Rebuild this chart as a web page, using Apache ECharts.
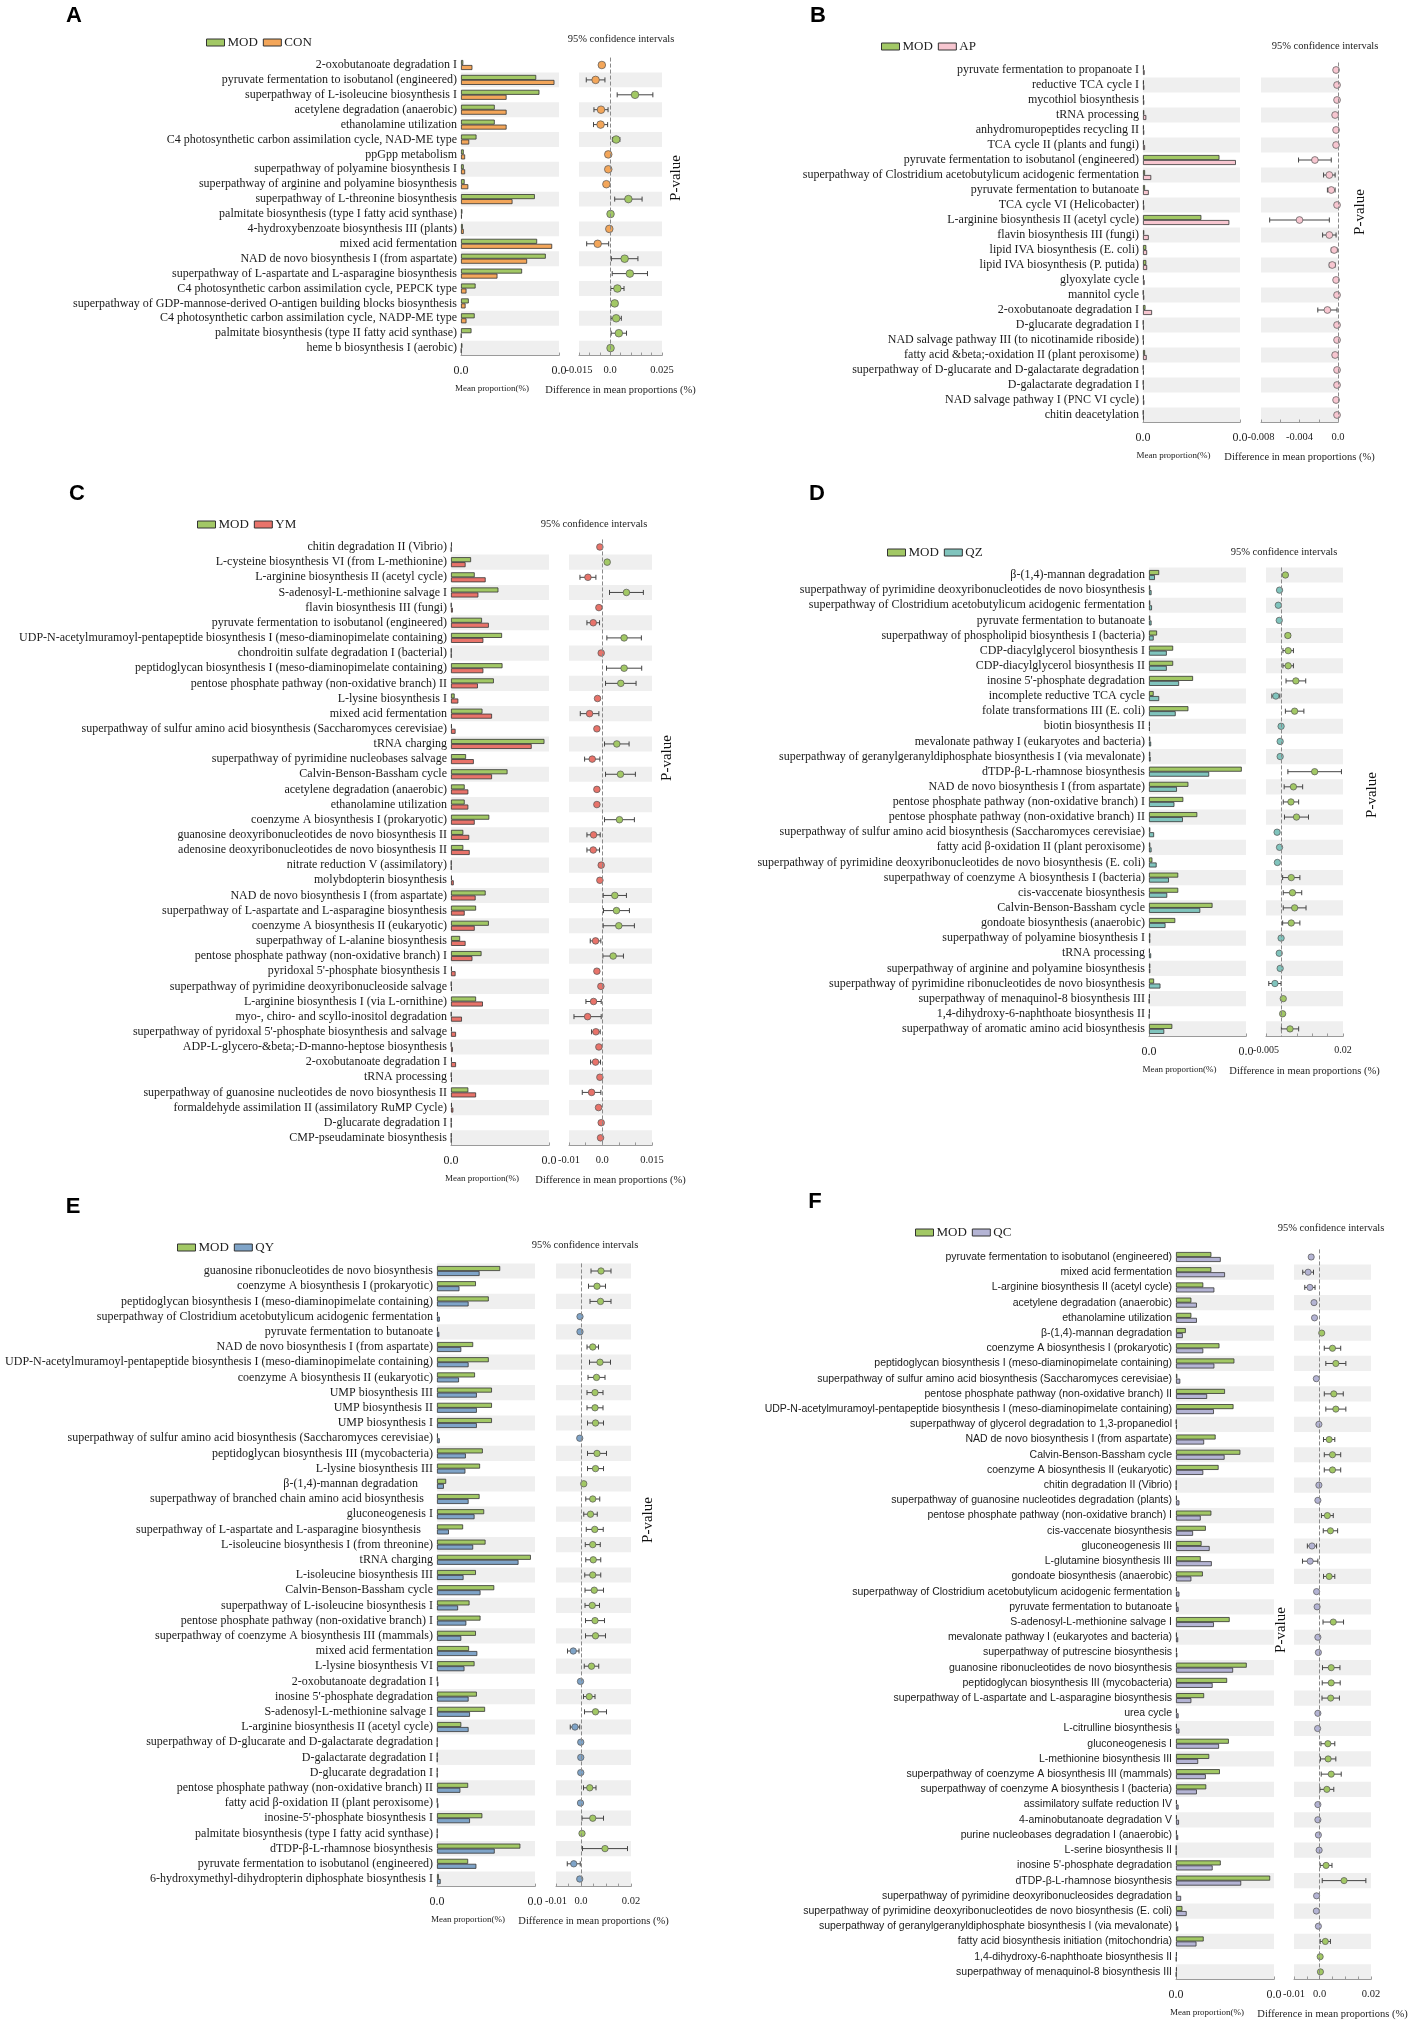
<!DOCTYPE html>
<html>
<head>
<meta charset="utf-8">
<title>MOD group comparisons</title>
<script src="https://cdn.jsdelivr.net/npm/echarts@6.0.0/dist/echarts.min.js"></script>
<style>
  html, body { margin: 0; padding: 0; background: #fff; }
  #main { width: 1417px; height: 2020px; }
</style>
</head>
<body>
<div id="main"></div>
<script>
// ---------- data: A  MOD vs CON ----------
var labelsA = ['2-oxobutanoate degradation I', 'pyruvate fermentation to isobutanol (engineered)', 'superpathway of L-isoleucine biosynthesis I',
  'acetylene degradation (anaerobic)', 'ethanolamine utilization', 'C4 photosynthetic carbon assimilation cycle, NAD-ME type', 'ppGpp metabolism',
  'superpathway of polyamine biosynthesis I', 'superpathway of arginine and polyamine biosynthesis', 'superpathway of L-threonine biosynthesis',
  'palmitate biosynthesis (type I fatty acid synthase)', '4-hydroxybenzoate biosynthesis III (plants)', 'mixed acid fermentation',
  'NAD de novo biosynthesis I (from aspartate)', 'superpathway of L-aspartate and L-asparagine biosynthesis', 'C4 photosynthetic carbon assimilation cycle, PEPCK type',
  'superpathway of GDP-mannose-derived O-antigen building blocks biosynthesis', 'C4 photosynthetic carbon assimilation cycle, NADP-ME type',
  'palmitate biosynthesis (type II fatty acid synthase)', 'heme b biosynthesis I (aerobic)'];
var modA = [0.001, 0.033, 0.0344, 0.0148, 0.0148, 0.0068, 0.0012, 0.0012, 0.0016, 0.0324, 0.0006, 0.0008, 0.0334, 0.0372, 0.0268, 0.0064, 0.0034, 0.006, 0.0046, 0.0006];
var conA = [0.005, 0.041, 0.02, 0.02, 0.02, 0.0036, 0.0018, 0.0018, 0.0032, 0.0226, 0.0004, 0.0012, 0.04, 0.029, 0.016, 0.0024, 0.002, 0.0024, 0.0002, 0.0002];
var diffA = [-0.004, -0.007, 0.012, -0.0044, -0.0046, 0.0029, -0.0009, -0.0009, -0.0018, 0.0088, 0.0002, -0.0004, -0.006, 0.007, 0.0095, 0.0035, 0.0022, 0.0029, 0.0042, 0.0002];
var ciA = [0.0012, 0.0045, 0.0086, 0.0034, 0.0034, 0.0018, 0.0005, 0.0005, 0.0008, 0.0066, 0.0003, 0.0004, 0.0053, 0.0064, 0.0085, 0.0032, 0.0014, 0.0025, 0.0037, 0.0003];

// ---------- data: B  MOD vs AP ----------
var labelsB = ['pyruvate fermentation to propanoate I', 'reductive TCA cycle I', 'mycothiol biosynthesis', 'tRNA processing', 'anhydromuropeptides recycling II',
  'TCA cycle II (plants and fungi)', 'pyruvate fermentation to isobutanol (engineered)', 'superpathway of Clostridium acetobutylicum acidogenic fermentation',
  'pyruvate fermentation to butanoate', 'TCA cycle VI (Helicobacter)', 'L-arginine biosynthesis II (acetyl cycle)', 'flavin biosynthesis III (fungi)',
  'lipid IVA biosynthesis (E. coli)', 'lipid IVA biosynthesis (P. putida)', 'glyoxylate cycle', 'mannitol cycle', '2-oxobutanoate degradation I',
  'D-glucarate degradation I', 'NAD salvage pathway III (to nicotinamide riboside)', 'fatty acid &beta;-oxidation II (plant peroxisome)',
  'superpathway of D-glucarate and D-galactarate degradation', 'D-galactarate degradation I', 'NAD salvage pathway I (PNC VI cycle)', 'chitin deacetylation'];
var modB = [0.0004, 0.0004, 0.0004, 0.0006, 0.0004, 0.0004, 0.0372, 0.001, 0.001, 0.0004, 0.0284, 0.0006, 0.0016, 0.0016, 0.0004, 0.0002, 0.0012, 0.0002, 0.0002, 0.001, 0.0002, 0.0002, 0.0004, 0.0002];
var apB = [0.0008, 0.0006, 0.0006, 0.0016, 0.0006, 0.001, 0.0452, 0.004, 0.0028, 0.0006, 0.042, 0.0028, 0.002, 0.002, 0.0008, 0.0006, 0.0044, 0.0004, 0.0004, 0.0018, 0.0004, 0.0004, 0.0006, 0.0004];
var diffB = [-0.0002, -0.0001, -0.0001, -0.0003, -0.0002, -0.0002, -0.0024, -0.0009, -0.0007, -0.0001, -0.004, -0.0009, -0.0004, -0.0006, -0.0002, -0.0001, -0.0011, -0.0001, -0.0001, -0.0003, -0.0001, -0.0001, -0.0002, -0.0001];
var ciB = [0.0001, 0.0001, 0.0001, 0.0001, 0.0001, 0.0001, 0.0017, 0.0006, 0.0004, 0.0001, 0.0031, 0.0007, 0.0003, 0.0003, 0.0001, 0.0001, 0.001, 0.0001, 0.0001, 0.0002, 0.0001, 0.0001, 0.0001, 0.0001];

// ---------- data: C  MOD vs YM ----------
var labelsC = ['chitin degradation II (Vibrio)', 'L-cysteine biosynthesis VI (from L-methionine)', 'L-arginine biosynthesis II (acetyl cycle)',
  'S-adenosyl-L-methionine salvage I', 'flavin biosynthesis III (fungi)', 'pyruvate fermentation to isobutanol (engineered)',
  'UDP-N-acetylmuramoyl-pentapeptide biosynthesis I (meso-diaminopimelate containing)', 'chondroitin sulfate degradation I (bacterial)',
  'peptidoglycan biosynthesis I (meso-diaminopimelate containing)', 'pentose phosphate pathway (non-oxidative branch) II', 'L-lysine biosynthesis I',
  'mixed acid fermentation', 'superpathway of sulfur amino acid biosynthesis (Saccharomyces cerevisiae)', 'tRNA charging',
  'superpathway of pyrimidine nucleobases salvage', 'Calvin-Benson-Bassham cycle', 'acetylene degradation (anaerobic)', 'ethanolamine utilization',
  'coenzyme A biosynthesis I (prokaryotic)', 'guanosine deoxyribonucleotides de novo biosynthesis II', 'adenosine deoxyribonucleotides de novo biosynthesis II',
  'nitrate reduction V (assimilatory)', 'molybdopterin biosynthesis', 'NAD de novo biosynthesis I (from aspartate)',
  'superpathway of L-aspartate and L-asparagine biosynthesis', 'coenzyme A biosynthesis II (eukaryotic)', 'superpathway of L-alanine biosynthesis',
  'pentose phosphate pathway (non-oxidative branch) I', "pyridoxal 5'-phosphate biosynthesis I", 'superpathway of pyrimidine deoxyribonucleoside salvage',
  'L-arginine biosynthesis I (via L-ornithine)', 'myo-, chiro- and scyllo-inositol degradation', "superpathway of pyridoxal 5'-phosphate biosynthesis and salvage",
  'ADP-L-glycero-&beta;-D-manno-heptose biosynthesis', '2-oxobutanoate degradation I', 'tRNA processing',
  'superpathway of guanosine nucleotides de novo biosynthesis II', 'formaldehyde assimilation II (assimilatory RuMP Cycle)', 'D-glucarate degradation I',
  'CMP-pseudaminate biosynthesis'];
var modC = [0.0004, 0.0088, 0.0104, 0.0208, 0.0002, 0.0136, 0.0224, 0.0002, 0.0226, 0.0188, 0.0016, 0.0138, 0.0004, 0.041, 0.0066, 0.0248, 0.006, 0.006, 0.0168, 0.0054,
  0.0054, 0.0002, 0.0004, 0.0152, 0.011, 0.0166, 0.004, 0.0134, 0.0004, 0.0002, 0.011, 0.0002, 0.0004, 0.0002, 0.0004, 0.0002, 0.0076, 0.0004, 0.0002, 0.0002];
var ymC = [0.0002, 0.0064, 0.0152, 0.012, 0.0008, 0.0166, 0.0142, 0.0002, 0.0142, 0.0118, 0.0032, 0.018, 0.002, 0.0354, 0.01, 0.018, 0.0076, 0.0076, 0.0104, 0.008,
  0.0082, 0.0002, 0.0012, 0.0108, 0.006, 0.0104, 0.0064, 0.0094, 0.002, 0.0004, 0.014, 0.0048, 0.0022, 0.0008, 0.0022, 0.0004, 0.011, 0.001, 0.0002, 0.0002];
var diffC = [-0.0007, 0.0015, -0.0043, 0.0073, -0.001, -0.0027, 0.0066, -0.0003, 0.0066, 0.0056, -0.0014, -0.0038, -0.0016, 0.0044, -0.003, 0.0055, -0.0016, -0.0016, 0.0052, -0.0026,
  -0.0027, -0.0003, -0.0007, 0.0038, 0.0043, 0.005, -0.002, 0.0033, -0.0016, -0.0004, -0.0026, -0.0044, -0.0019, -0.001, -0.002, -0.0007, -0.0032, -0.0011, -0.0003, -0.0005];
var ciC = [0.0003, 0.0004, 0.0024, 0.0051, 0.0003, 0.0019, 0.0052, 0.0002, 0.0053, 0.0046, 0.0004, 0.0028, 0.0004, 0.0037, 0.0023, 0.0045, 0.0004, 0.0004, 0.0045, 0.002,
  0.0019, 0.0002, 0.0003, 0.0035, 0.0039, 0.0047, 0.0016, 0.0031, 0.0005, 0.0002, 0.0023, 0.0041, 0.0013, 0.0003, 0.0015, 0.0003, 0.0028, 0.0003, 0.0002, 0.0003];

// ---------- data: D  MOD vs QZ ----------
var labelsD = ['β-(1,4)-mannan degradation', 'superpathway of pyrimidine deoxyribonucleotides de novo biosynthesis',
  'superpathway of Clostridium acetobutylicum acidogenic fermentation', 'pyruvate fermentation to butanoate', 'superpathway of phospholipid biosynthesis I (bacteria)',
  'CDP-diacylglycerol biosynthesis I', 'CDP-diacylglycerol biosynthesis II', "inosine 5'-phosphate degradation", 'incomplete reductive TCA cycle',
  'folate transformations III (E. coli)', 'biotin biosynthesis II', 'mevalonate pathway I (eukaryotes and bacteria)',
  'superpathway of geranylgeranyldiphosphate biosynthesis I (via mevalonate)', 'dTDP-β-L-rhamnose biosynthesis', 'NAD de novo biosynthesis I (from aspartate)',
  'pentose phosphate pathway (non-oxidative branch) I', 'pentose phosphate pathway (non-oxidative branch) II',
  'superpathway of sulfur amino acid biosynthesis (Saccharomyces cerevisiae)', 'fatty acid β-oxidation II (plant peroxisome)',
  'superpathway of pyrimidine deoxyribonucleotides de novo biosynthesis (E. coli)', 'superpathway of coenzyme A biosynthesis I (bacteria)',
  'cis-vaccenate biosynthesis', 'Calvin-Benson-Bassham cycle', 'gondoate biosynthesis (anaerobic)', 'superpathway of polyamine biosynthesis I',
  'tRNA processing', 'superpathway of arginine and polyamine biosynthesis', 'superpathway of pyrimidine ribonucleotides de novo biosynthesis',
  'superpathway of menaquinol-8 biosynthesis III', '1,4-dihydroxy-6-naphthoate biosynthesis II', 'superpathway of aromatic amino acid biosynthesis'];
var modD = [0.0048, 0.0006, 0.0006, 0.0006, 0.0038, 0.0114, 0.0114, 0.0208, 0.0022, 0.0186, 0.0004, 0.0006, 0.0006, 0.0438, 0.0186,
  0.0162, 0.0228, 0.0006, 0.0006, 0.0016, 0.0138, 0.0138, 0.03, 0.0124, 0.0006, 0.0004, 0.0006, 0.0024, 0.0004, 0.0004, 0.011];
var qzD = [0.0028, 0.0012, 0.0014, 0.0012, 0.0022, 0.0084, 0.0084, 0.0142, 0.0048, 0.0126, 0.0004, 0.001, 0.0008, 0.0284, 0.0132,
  0.012, 0.016, 0.0024, 0.0012, 0.0036, 0.0094, 0.0086, 0.0242, 0.0078, 0.0006, 0.001, 0.0006, 0.0054, 0.0002, 0.0002, 0.0072];
var diffD = [0.0013, -0.0006, -0.001, -0.0007, 0.0021, 0.0022, 0.0022, 0.0047, -0.0018, 0.0043, -0.0001, -0.0004, -0.0004, 0.0108, 0.0039,
  0.0031, 0.0049, -0.0014, -0.0006, -0.0013, 0.0032, 0.0036, 0.0043, 0.0032, -0.0001, -0.0007, -0.0004, -0.0021, 0.0006, 0.0004, 0.0028];
var ciD = [0.0004, 0.0003, 0.0003, 0.0003, 0.0008, 0.0017, 0.0017, 0.0032, 0.0013, 0.003, 0.0002, 0.0002, 0.0002, 0.0087, 0.003,
  0.0025, 0.0039, 0.0003, 0.0003, 0.0003, 0.0028, 0.003, 0.0037, 0.0028, 0.0002, 0.0003, 0.0002, 0.002, 0.0002, 0.0002, 0.0028];

// ---------- data: E  MOD vs QY ----------
var labelsE = ['guanosine ribonucleotides de novo biosynthesis', 'coenzyme A biosynthesis I (prokaryotic)', 'peptidoglycan biosynthesis I (meso-diaminopimelate containing)',
  'superpathway of Clostridium acetobutylicum acidogenic fermentation', 'pyruvate fermentation to butanoate', 'NAD de novo biosynthesis I (from aspartate)',
  'UDP-N-acetylmuramoyl-pentapeptide biosynthesis I (meso-diaminopimelate containing)', 'coenzyme A biosynthesis II (eukaryotic)', 'UMP biosynthesis III',
  'UMP biosynthesis II', 'UMP biosynthesis I', 'superpathway of sulfur amino acid biosynthesis (Saccharomyces cerevisiae)',
  'peptidoglycan biosynthesis III (mycobacteria)', 'L-lysine biosynthesis III', 'β-(1,4)-mannan degradation     ',
  'superpathway of branched chain amino acid biosynthesis   ', 'gluconeogenesis I', 'superpathway of L-aspartate and L-asparagine biosynthesis    ',
  'L-isoleucine biosynthesis I (from threonine)', 'tRNA charging', 'L-isoleucine biosynthesis III', 'Calvin-Benson-Bassham cycle',
  'superpathway of L-isoleucine biosynthesis I', 'pentose phosphate pathway (non-oxidative branch) I', 'superpathway of coenzyme A biosynthesis III (mammals)',
  'mixed acid fermentation', 'L-lysine biosynthesis VI', '2-oxobutanoate degradation I', "inosine 5'-phosphate degradation",
  'S-adenosyl-L-methionine salvage I', 'L-arginine biosynthesis II (acetyl cycle)', 'superpathway of D-glucarate and D-galactarate degradation',
  'D-galactarate degradation I', 'D-glucarate degradation I', 'pentose phosphate pathway (non-oxidative branch) II',
  'fatty acid β-oxidation II (plant peroxisome)', "inosine-5'-phosphate biosynthesis I", 'palmitate biosynthesis (type I fatty acid synthase)',
  'dTDP-β-L-rhamnose biosynthesis', 'pyruvate fermentation to isobutanol (engineered)', '6-hydroxymethyl-dihydropterin diphosphate biosynthesis I'];
var modE = [0.0276, 0.017, 0.0226, 0.0004, 0.0004, 0.0158, 0.0226, 0.0166, 0.024, 0.024, 0.024, 0.0004, 0.02, 0.0188, 0.004, 0.0186, 0.0206, 0.0114, 0.0212, 0.041,
  0.017, 0.025, 0.0142, 0.019, 0.017, 0.014, 0.0164, 0.0002, 0.0174, 0.021, 0.0106, 0.0002, 0.0002, 0.0002, 0.0136, 0.0002, 0.0198, 0.0002, 0.0364, 0.0136, 0.0008];
var qyE = [0.0186, 0.0098, 0.0138, 0.0012, 0.001, 0.0106, 0.0138, 0.0096, 0.0174, 0.0174, 0.0174, 0.0012, 0.0126, 0.0124, 0.003, 0.0138, 0.0164, 0.0052, 0.0158, 0.0356,
  0.0116, 0.019, 0.0092, 0.0128, 0.0106, 0.0176, 0.012, 0.0006, 0.0138, 0.0144, 0.0138, 0.0002, 0.0002, 0.0002, 0.0102, 0.0006, 0.0144, 0.0002, 0.0252, 0.0172, 0.0016];
var diffE = [0.008, 0.0064, 0.0078, -0.0004, -0.0004, 0.0047, 0.0076, 0.0062, 0.0056, 0.0056, 0.0058, -0.0005, 0.0064, 0.0058, 0.0011, 0.0047, 0.0038, 0.0055, 0.0047, 0.0049,
  0.0047, 0.0053, 0.0045, 0.0056, 0.0058, -0.0031, 0.0042, -0.0002, 0.0033, 0.0058, -0.0024, -0.0001, -0.0001, -0.0001, 0.0035, -0.0002, 0.0047, 0.0004, 0.0096, -0.0029, -0.0005];
var ciE = [0.004, 0.0034, 0.0042, 0.0003, 0.0003, 0.0023, 0.0042, 0.0034, 0.0032, 0.0032, 0.0032, 0.0003, 0.0038, 0.0032, 0.0003, 0.0028, 0.0027, 0.0034, 0.003, 0.003,
  0.0032, 0.0037, 0.0029, 0.0038, 0.004, 0.0023, 0.0029, 0.0003, 0.0023, 0.0044, 0.0019, 0.0002, 0.0002, 0.0002, 0.0025, 0.0003, 0.0043, 0.0003, 0.009, 0.0026, 0.0003];

// ---------- data: F  MOD vs QC ----------
var labelsF = ['pyruvate fermentation to isobutanol (engineered)', 'mixed acid fermentation', 'L-arginine biosynthesis II (acetyl cycle)',
  'acetylene degradation (anaerobic)', 'ethanolamine utilization', 'β-(1,4)-mannan degradation', 'coenzyme A biosynthesis I (prokaryotic)',
  'peptidoglycan biosynthesis I (meso-diaminopimelate containing)', 'superpathway of sulfur amino acid biosynthesis (Saccharomyces cerevisiae)',
  'pentose phosphate pathway (non-oxidative branch) II', 'UDP-N-acetylmuramoyl-pentapeptide biosynthesis I (meso-diaminopimelate containing)',
  'superpathway of glycerol degradation to 1,3-propanediol', 'NAD de novo biosynthesis I (from aspartate)', 'Calvin-Benson-Bassham cycle',
  'coenzyme A biosynthesis II (eukaryotic)', 'chitin degradation II (Vibrio)', 'superpathway of guanosine nucleotides degradation (plants)',
  'pentose phosphate pathway (non-oxidative branch) I', 'cis-vaccenate biosynthesis', 'gluconeogenesis III', 'L-glutamine biosynthesis III',
  'gondoate biosynthesis (anaerobic)', 'superpathway of Clostridium acetobutylicum acidogenic fermentation', 'pyruvate fermentation to butanoate',
  'S-adenosyl-L-methionine salvage I', 'mevalonate pathway I (eukaryotes and bacteria)', 'superpathway of putrescine biosynthesis',
  'guanosine ribonucleotides de novo biosynthesis', 'peptidoglycan biosynthesis III (mycobacteria)', 'superpathway of L-aspartate and L-asparagine biosynthesis',
  'urea cycle', 'L-citrulline biosynthesis', 'gluconeogenesis I', 'L-methionine biosynthesis III', 'superpathway of coenzyme A biosynthesis III (mammals)',
  'superpathway of coenzyme A biosynthesis I (bacteria)', 'assimilatory sulfate reduction IV', '4-aminobutanoate degradation V',
  'purine nucleobases degradation I (anaerobic)', 'L-serine biosynthesis II', "inosine 5'-phosphate degradation", 'dTDP-β-L-rhamnose biosynthesis',
  'superpathway of pyrimidine deoxyribonucleosides degradation', 'superpathway of pyrimidine deoxyribonucleotides de novo biosynthesis (E. coli)',
  'superpathway of geranylgeranyldiphosphate biosynthesis I (via mevalonate)', 'fatty acid biosynthesis initiation (mitochondria)',
  '1,4-dihydroxy-6-naphthoate biosynthesis II', 'superpathway of menaquinol-8 biosynthesis III'];
var modF = [0.0166, 0.0166, 0.0128, 0.0072, 0.0072, 0.0046, 0.0204, 0.0274, 0.0006, 0.023, 0.027, 0.0002, 0.0186, 0.0302, 0.02,
  0.0002, 0.0004, 0.0166, 0.014, 0.012, 0.0116, 0.0126, 0.0004, 0.0004, 0.0252, 0.0004, 0.0004, 0.0332, 0.024, 0.0132, 0.0004, 0.0004, 0.0248,
  0.0156, 0.0206, 0.0142, 0.0004, 0.0004, 0.0004, 0.0002, 0.021, 0.0442, 0.0006, 0.003, 0.0004, 0.013, 0.0004, 0.0004];
var qcF = [0.021, 0.023, 0.018, 0.0098, 0.0098, 0.0032, 0.0128, 0.018, 0.002, 0.0146, 0.0178, 0.0004, 0.0132, 0.0228, 0.0128,
  0.0002, 0.0016, 0.0116, 0.008, 0.0158, 0.0168, 0.0072, 0.0016, 0.0012, 0.0178, 0.001, 0.0006, 0.0268, 0.0172, 0.0072, 0.0012, 0.0016, 0.0202,
  0.0104, 0.014, 0.0098, 0.0012, 0.0014, 0.001, 0.0002, 0.0172, 0.0306, 0.0024, 0.005, 0.001, 0.0096, 0.0002, 0.0002];
var diffF = [-0.0033, -0.0045, -0.0038, -0.0022, -0.002, 0.0008, 0.005, 0.0063, -0.0013, 0.0055, 0.0063, -0.0003, 0.0037, 0.005, 0.005,
  -0.0003, -0.0007, 0.003, 0.0042, -0.003, -0.0037, 0.0037, -0.0012, -0.001, 0.0053, -0.0007, -0.0005, 0.0045, 0.0045, 0.0043, -0.0007, -0.0008, 0.0032,
  0.0033, 0.0045, 0.0028, -0.0007, -0.0007, -0.0005, -0.0002, 0.0025, 0.0095, -0.0012, -0.0013, -0.0005, 0.0022, 0.0002, 0.0003];
var ciF = [0.0007, 0.0021, 0.002, 0.0004, 0.0004, 0.0003, 0.0032, 0.0039, 0.0003, 0.0037, 0.0039, 0.0002, 0.0022, 0.0032, 0.0032,
  0.0002, 0.0003, 0.0023, 0.0028, 0.0018, 0.003, 0.0022, 0.0003, 0.0003, 0.004, 0.0002, 0.0002, 0.0034, 0.0035, 0.0034, 0.0002, 0.0003, 0.0027,
  0.003, 0.0039, 0.0027, 0.0002, 0.0002, 0.0002, 0.0002, 0.0023, 0.0085, 0.0003, 0.0003, 0.0002, 0.002, 0.0002, 0.0002];

// 坐标轴刻度标签
var diffTicksA = [-0.015, 0, 0.025];
var diffTicksB = [-0.008, -0.004, 0];
var diffTicksC = [-0.01, 0, 0.015];
var diffTicksD = [-0.005, 0, 0.02];
var diffTicksE = [-0.01, 0, 0.02];
var diffTicksF = [-0.01, 0, 0.02];

// ---------- layout (px) ----------
var SERIF = 'Liberation Serif';
var SANS = 'Liberation Sans';
var MOD_COLOR = '#a2c865';

var panels = [
  { letter: 'A', other: 'CON', color: '#f3a65a', labels: labelsA, mod: modA, grp: conA, diff: diffA, ci: ciA, ticks: diffTicksA,
    pos: { letter: [74, 16], legend: [206, 36], ciTitle: [621, 39], pval: [676, 178], barX: 461, barW: 98, diffX: 579, diffW: 83,
      firstRow: 65, rowH: 14.9, barMax: 0.043, dMin: -0.015, dMax: 0.025, dStep: 0.005, bandFirst: false, font: SERIF, fs: 12, r: 3.8 } },
  { letter: 'B', other: 'AP', color: '#f7c6d0', labels: labelsB, mod: modB, grp: apB, diff: diffB, ci: ciB, ticks: diffTicksB,
    pos: { letter: [818, 16], legend: [881, 40], ciTitle: [1325, 46], pval: [1360, 212], barX: 1143, barW: 97, diffX: 1261, diffW: 77,
      firstRow: 70, rowH: 15.0, barMax: 0.0472, dMin: -0.008, dMax: 0, dStep: 0.002, bandFirst: false, font: SERIF, fs: 12, r: 3.4 } },
  { letter: 'C', other: 'YM', color: '#e8736a', labels: labelsC, mod: modC, grp: ymC, diff: diffC, ci: ciC, ticks: diffTicksC,
    pos: { letter: [77, 494], legend: [197, 518], ciTitle: [594, 524], pval: [667, 758], barX: 451, barW: 98, diffX: 569, diffW: 83,
      firstRow: 547, rowH: 15.15, barMax: 0.043, dMin: -0.01, dMax: 0.015, dStep: 0.005, bandFirst: false, font: SERIF, fs: 12, r: 3.3 } },
  { letter: 'D', other: 'QZ', color: '#80c4bd', labels: labelsD, mod: modD, grp: qzD, diff: diffD, ci: ciD, ticks: diffTicksD,
    pos: { letter: [817, 494], legend: [887, 546], ciTitle: [1284, 552], pval: [1372, 795], barX: 1149, barW: 97, diffX: 1266, diffW: 77,
      firstRow: 575, rowH: 15.13, barMax: 0.0458, dMin: -0.005, dMax: 0.02, dStep: 0.005, bandFirst: true, font: SERIF, fs: 12, r: 3.2 } },
  { letter: 'E', other: 'QY', color: '#7fa4c8', labels: labelsE, mod: modE, grp: qyE, diff: diffE, ci: ciE, ticks: diffTicksE,
    pos: { letter: [73, 1207], legend: [177, 1241], ciTitle: [585, 1245], pval: [648, 1520], barX: 437, barW: 98, diffX: 556, diffW: 75,
      firstRow: 1271, rowH: 15.2, barMax: 0.0428, dMin: -0.01, dMax: 0.02, dStep: 0.005, bandFirst: true, font: SERIF, fs: 12, r: 3.2 } },
  { letter: 'F', other: 'QC', color: '#b4b4d4', labels: labelsF, mod: modF, grp: qcF, diff: diffF, ci: ciF, ticks: diffTicksF,
    pos: { letter: [815, 1202], legend: [915, 1226], ciTitle: [1331, 1228], pval: [1281, 1630], barX: 1176, barW: 98, diffX: 1294, diffW: 77,
      firstRow: 1257, rowH: 15.21, barMax: 0.046, dMin: -0.01, dMax: 0.02, dStep: 0.005, bandFirst: false, font: SANS, fs: 10.5, r: 3.1 } }
];

var option = {
  animation: false,
  backgroundColor: '#ffffff',
  grid: [], xAxis: [], yAxis: [], series: [], legend: [], graphic: []
};

// 差值点 + 95%置信区间
function diffRenderer(posColor, negColor, r) {
  return function (params, api) {
    var v = api.value(0), row = api.value(1), half = api.value(2);
    var c = api.coord([v, row]);
    var a = api.coord([v - half, row]);
    var b = api.coord([v + half, row]);
    var cap = 2.5;
    var ls = { stroke: '#444', lineWidth: 1 };
    return {
      type: 'group',
      children: [
        { type: 'line', shape: { x1: a[0], y1: c[1], x2: b[0], y2: c[1] }, style: ls },
        { type: 'line', shape: { x1: a[0], y1: c[1] - cap, x2: a[0], y2: c[1] + cap }, style: ls },
        { type: 'line', shape: { x1: b[0], y1: c[1] - cap, x2: b[0], y2: c[1] + cap }, style: ls },
        { type: 'circle', shape: { cx: c[0], cy: c[1], r: r },
          style: { fill: v > 0 ? posColor : negColor, stroke: '#555', lineWidth: 0.7 } }
      ]
    };
  };
}

function tickFormatter(ticks) {
  return function (v) {
    for (var i = 0; i < ticks.length; i++) {
      if (Math.abs(v - ticks[i]) < 1e-7) return ticks[i] === 0 ? '0.0' : String(ticks[i]);
    }
    return '';
  };
}

panels.forEach(function (p) {
  var L = p.pos;
  var n = p.labels.length;
  var top = L.firstRow - L.rowH / 2;
  var h = L.rowH * n;
  var gi = option.grid.length;
  var bands = L.bandFirst ? ['#efefef', 'rgba(0,0,0,0)'] : ['rgba(0,0,0,0)', '#efefef'];

  option.grid.push({ left: L.barX, top: top, width: L.barW, height: h, outerBoundsMode: 'none' });
  option.grid.push({ left: L.diffX, top: top, width: L.diffW, height: h, outerBoundsMode: 'none' });

  var axisLine = { show: true, lineStyle: { color: '#9a9a9a', width: 1 } };
  option.xAxis.push({
    type: 'value', gridIndex: gi, min: 0, max: L.barMax, interval: L.barMax,
    axisLine: axisLine, axisTick: { show: true, inside: true, length: 3, lineStyle: { color: '#9a9a9a' } },
    splitLine: { show: false },
    axisLabel: { margin: 9, fontFamily: SERIF, fontSize: 12, color: '#222', formatter: function (v) { return v.toFixed(1); } },
    name: 'Mean proportion(%)', nameLocation: 'middle', nameGap: 29,
    nameTextStyle: { fontFamily: SERIF, fontSize: 9, color: '#222', padding: [0, 36, 0, 0] }
  });
  option.xAxis.push({
    type: 'value', gridIndex: gi + 1, min: L.dMin, max: L.dMax, interval: L.dStep,
    axisLine: axisLine, axisTick: { show: true, inside: true, length: 3, lineStyle: { color: '#9a9a9a' } },
    splitLine: { show: false },
    axisLabel: { margin: 9, fontFamily: SERIF, fontSize: p.letter === 'D' ? 10 : 10.5, color: '#222',
      showMinLabel: true, showMaxLabel: true, formatter: tickFormatter(p.ticks) },
    name: 'Difference in mean proportions (%)', nameLocation: 'middle', nameGap: 29,
    nameTextStyle: { fontFamily: SERIF, fontSize: 10.5, color: '#222' }
  });
  option.yAxis.push({
    type: 'category', gridIndex: gi, data: p.labels, inverse: true,
    axisLine: { show: false }, axisTick: { show: false },
    axisLabel: { interval: 0, margin: 4, fontFamily: L.font, fontSize: L.fs, color: '#1a1a1a' },
    splitArea: { show: true, interval: 0, areaStyle: { color: bands } }
  });
  option.yAxis.push({
    type: 'category', gridIndex: gi + 1, data: p.labels, inverse: true,
    axisLine: { show: false }, axisTick: { show: false }, axisLabel: { show: false },
    splitArea: { show: true, interval: 0, areaStyle: { color: bands } }
  });

  var barStyle = { borderColor: '#333', borderWidth: 0.8 };
  option.series.push({
    name: 'MOD', type: 'bar', xAxisIndex: gi, yAxisIndex: gi, data: p.mod,
    barWidth: 5, barGap: '0%', itemStyle: Object.assign({ color: MOD_COLOR }, barStyle), silent: true
  });
  option.series.push({
    name: p.other, type: 'bar', xAxisIndex: gi, yAxisIndex: gi, data: p.grp,
    barWidth: 5, barGap: '0%', itemStyle: Object.assign({ color: p.color }, barStyle), silent: true
  });
  option.series.push({
    name: p.other + ' diff', type: 'custom', xAxisIndex: gi + 1, yAxisIndex: gi + 1,
    data: p.diff.map(function (d, i) { return [d, i, p.ci[i]]; }),
    encode: { x: 0, y: 1 },
    renderItem: diffRenderer(MOD_COLOR, p.color, L.r),
    silent: true,
    markLine: { silent: true, symbol: ['none', 'none'], label: { show: false },
      lineStyle: { type: 'dashed', color: '#8a8a8a', width: 1 }, data: [{ xAxis: 0 }] }
  });

  option.legend.push({
    left: L.legend[0], top: L.legend[1], data: ['MOD', p.other], selectedMode: false,
    icon: 'rect', itemWidth: 18, itemHeight: 7, itemGap: 5, padding: 0,
    itemStyle: { borderColor: '#333', borderWidth: 1 },
    textStyle: { fontFamily: SERIF, fontSize: 13, color: '#222', padding: [0, 0, 0, -2] }
  });

  option.graphic.push({ type: 'text', x: L.letter[0], y: L.letter[1],
    style: { text: p.letter, font: 'bold 22px "Liberation Sans"', fill: '#000', textAlign: 'center', textVerticalAlign: 'middle' } });
  option.graphic.push({ type: 'text', x: L.ciTitle[0], y: L.ciTitle[1],
    style: { text: '95% confidence intervals', font: '10.5px "Liberation Serif"', fill: '#222', textAlign: 'center', textVerticalAlign: 'middle' } });
  option.graphic.push({ type: 'text', x: L.pval[0], y: L.pval[1], rotation: Math.PI / 2,
    style: { text: 'P-value', font: '15px "Liberation Serif"', fill: '#111', textAlign: 'center', textVerticalAlign: 'middle' } });
});

var myChart = echarts.init(document.getElementById('main'), null, { renderer: 'canvas' });
myChart.setOption(option);
</script>
</body>
</html>
